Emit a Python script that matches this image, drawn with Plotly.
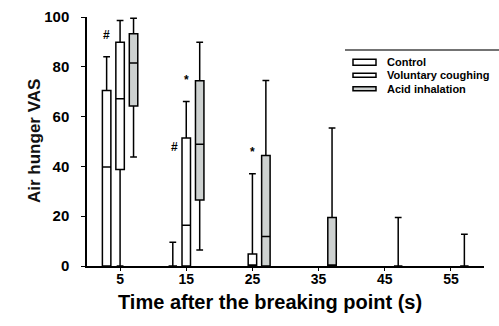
import plotly.graph_objects as go

# ---------------- data ----------------
times = [5, 15, 25, 35, 45, 55]
tick_labels = ["5", "15", "25", "35", "45", "55"]
group_names = ["Control", "Voluntary coughing", "Acid inhalation"]

control_x = [5, 15]
control_low = [0, 0]
control_q1 = [0, 0]
control_med = [39.8, 0]
control_q3 = [70.5, 0]
control_up = [84, 9.5]

vol_x = [5, 15, 25]
vol_low = [0, 0, 0]
vol_q1 = [38.8, 0, 0]
vol_med = [67.2, 16.4, 0]
vol_q3 = [89.9, 51.4, 4.8]
vol_up = [98.6, 66.1, 37]

acid_x = [5, 15, 25, 35, 45, 55]
acid_low = [43.8, 6.4, 0, 0, 0, 0]
acid_q1 = [64.3, 26.5, 0, 0, 0, 0]
acid_med = [81.5, 48.9, 11.8, 0, 0, 0]
acid_q3 = [93.3, 74.4, 44.4, 19.5, 0, 0]
acid_up = [99.5, 89.9, 74.5, 55.4, 19.5, 12.8]

# significance markers: (label, time, group index, reference value kind)
markers = [("#", 5, 0, "up"), ("*", 15, 1, "up"), ("#", 15, 1, "q3side"), ("*", 25, 1, "up")]

# ---------------- figure ----------------
W, H = 499, 326
L, R, T, B = 87, 15, 17, 60
pw, ph = W - L - R, H - T - B
def px(x):
    return (x - L) / pw
def py(y):
    return (H - B - y) / ph

FONT = "Liberation Sans, Arial, sans-serif"
GRAY = "#cdd1d0"
fills = ["white", "white", GRAY]
series = [
    (control_x, control_low, control_q1, control_med, control_q3, control_up),
    (vol_x, vol_low, vol_q1, vol_med, vol_q3, vol_up),
    (acid_x, acid_low, acid_q1, acid_med, acid_q3, acid_up),
]

fig = go.Figure()
for name, fill, (xs, lo, q1, md, q3, up) in zip(group_names, fills, series):
    fig.add_trace(go.Box(
        name=name, x=xs, lowerfence=lo, q1=q1, median=md, q3=q3, upperfence=up,
        fillcolor=fill, line=dict(color="black", width=1.5), whiskerwidth=0.8,
        boxpoints=False, showlegend=False, hoverinfo="skip",
    ))

boxgap, boxgroupgap = 0.39, 0.37
group_offset = [-2 * 5 * (1 / 3) * (1 - boxgap), 0, 2 * 5 * (1 / 3) * (1 - boxgap)]

annotations = []
for label, t, g, kind in markers:
    xs, lo, q1, md, q3, up = series[g]
    i = xs.index(t)
    xpos = t + group_offset[g]
    if kind == "up":
        annotations.append(dict(x=xpos, y=up[i] + 5, text=label, showarrow=False,
                                xref="x", yref="y", yanchor="bottom",
                                font=dict(family=FONT, size=12, color="black", weight="bold")))
    else:
        annotations.append(dict(x=xpos - 0.9, y=q3[i], text=label, showarrow=False,
                                xref="x", yref="y", xanchor="right", yanchor="top",
                                font=dict(family=FONT, size=12, color="black", weight="bold")))

# axis titles
annotations.append(dict(x=px(270), y=py(315), xref="paper", yref="paper", showarrow=False,
                        text="Time after the breaking point (s)",
                        font=dict(family=FONT, size=20, color="black", weight="bold")))
annotations.append(dict(x=px(23), y=py(141.5), xref="paper", yref="paper", showarrow=False,
                        text="Air hunger VAS", textangle=-90,
                        font=dict(family=FONT, size=17, color="#111", weight="bold")))

# custom legend
shapes = [dict(type="line", xref="paper", yref="paper", x0=px(345), x1=px(499),
               y0=py(50), y1=py(50), line=dict(color="#444", width=1.5))]
leg_rows = [(62.3, 6, "white"), (75.3, 4, "white"), (88.7, 4, GRAY)]
for name, (yc, hgt, fc) in zip(group_names, leg_rows):
    shapes.append(dict(type="rect", xref="paper", yref="paper", x0=px(353), x1=px(376),
                       y0=py(yc + hgt / 2), y1=py(yc - hgt / 2),
                       line=dict(color="black", width=1.5), fillcolor=fc))
    annotations.append(dict(x=px(385), y=py(yc), xref="paper", yref="paper", showarrow=False,
                            xanchor="left", yanchor="middle", text=name,
                            font=dict(family=FONT, size=11, color="black", weight="bold")))

fig.update_layout(
    width=W, height=H, margin=dict(l=L, r=R, t=T, b=B, autoexpand=False),
    paper_bgcolor="white", plot_bgcolor="white",
    boxmode="group", boxgap=boxgap, boxgroupgap=boxgroupgap,
    showlegend=False, annotations=annotations, shapes=shapes,
)
fig.update_xaxes(range=[0, 60], tickvals=times, ticktext=tick_labels, showgrid=False,
                 zeroline=False, showline=True, linecolor="black", linewidth=1.5,
                 ticks="outside", ticklen=3, tickwidth=1.2, tickcolor="black", automargin=False,
                 ticklabelstandoff=-4,
                 tickfont=dict(family=FONT, size=14, color="black", weight="bold"))
fig.update_yaxes(range=[0, 100], tickvals=[0, 20, 40, 60, 80, 100], showgrid=False,
                 zeroline=False, showline=True, linecolor="black", linewidth=1.5,
                 ticks="outside", ticklen=4, tickwidth=1.2, tickcolor="black",
                 ticklabelstandoff=9, automargin=False,
                 tickfont=dict(family=FONT, size=15, color="black", weight="bold"))

fig.write_html("out.html", config={"displayModeBar": False},
               post_script="document.body.style.margin='0';document.body.style.overflow='hidden';")
